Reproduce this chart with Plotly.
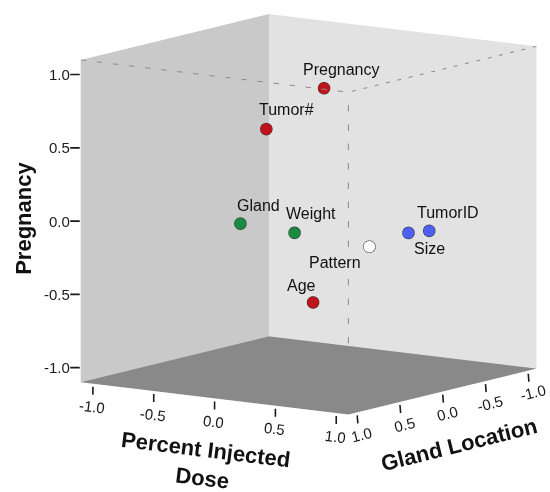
import plotly.graph_objects as go

# Component loadings of each variable
variables = ["Pregnancy", "Tumor#", "Gland", "Weight", "Pattern", "Size", "TumorID", "Age"]
percent_injected_dose = [0.21, -0.11, -0.07, 0.27, 0.40, 0.70, 0.80, 0.19]
gland_location = [0.12, 0.34, 0.70, 0.55, -0.14, -0.17, -0.27, 0.22]
pregnancy = [0.90, 0.62, 0.03, -0.02, -0.20, -0.08, -0.07, -0.55]
groups = ["red", "red", "green", "green", "none", "blue", "blue", "red"]

axis_ticks = [-1.0, -0.5, 0.0, 0.5, 1.0]
axis_range = [-1.1, 1.1]

# pixel offsets of each point label from its marker (right, up)
label_offsets = [(18, 18), (20, 19), (18, 18), (17, 19), (-34, -16), (21, -16), (19, 18), (-11, 17)]

palette = {"red": "#c0141c", "green": "#1a8a40", "blue": "#4f5ff2", "none": "#ffffff"}
colors = [palette[g] for g in groups]
FONT = "Liberation Sans, Arial, sans-serif"
lo, hi = axis_range

fig = go.Figure()

fig.add_trace(go.Scatter3d(
    x=gland_location, y=percent_injected_dose, z=pregnancy,
    mode="markers",
    marker=dict(size=7, color=colors, line=dict(color="#2a2a2a", width=1), opacity=1),
    text=variables, hoverinfo="text", showlegend=False,
))

# dashed front edges of the box
fig.add_trace(go.Scatter3d(
    x=[lo, hi, hi, None, hi, hi],
    y=[hi, hi, lo, None, hi, hi],
    z=[hi, hi, hi, None, hi, lo],
    mode="lines", line=dict(color="#8a8a8a", width=2, dash="dash"),
    hoverinfo="skip", showlegend=False, connectgaps=False,
))

annotations = []
# point labels
for name, gx, px, pz, (dx, dy) in zip(variables, gland_location, percent_injected_dose,
                                     pregnancy, label_offsets):
    annotations.append(dict(x=gx, y=px, z=pz, text=name, showarrow=False,
                            xshift=dx, yshift=dy,
                            font=dict(family=FONT, size=16, color="#111111")))

tick_font = dict(family=FONT, size=15, color="#1a1a1a")
tick_mark = dict(text=" ", showarrow=True, arrowhead=0, arrowwidth=1.6,
                 arrowcolor="#1a1a1a", font=dict(size=1), borderpad=0)
for t in axis_ticks:
    label = f"{t:.1f}"
    # Percent Injected Dose ticks along the front-left floor edge
    annotations.append(dict(x=hi, y=t, z=lo, text=label, showarrow=False,
                            xshift=-1, yshift=-23, textangle=7, font=tick_font))
    annotations.append(dict(tick_mark, x=hi, y=t, z=lo, ax=0, ay=12, standoff=3))
    # Gland Location ticks along the front-right floor edge
    annotations.append(dict(x=t, y=hi, z=lo, text=label, showarrow=False,
                            xshift=5, yshift=-22, textangle=-14, font=tick_font))
    annotations.append(dict(tick_mark, x=t, y=hi, z=lo, ax=1, ay=12, standoff=3))
    # Pregnancy ticks on the left vertical edge
    annotations.append(dict(x=hi, y=lo, z=t, text=label, showarrow=False,
                            xanchor="right", xshift=-9, font=tick_font))
    annotations.append(dict(tick_mark, x=hi, y=lo, z=t, ax=-11, ay=0, standoff=1))

title_font = dict(family=FONT, size=22, color="#111111")
annotations += [
    dict(x=hi, y=lo, z=0, text="<b>Pregnancy</b>", showarrow=False,
         xshift=-58, yshift=3, textangle=-90, font=title_font),
    dict(x=hi, y=0, z=lo, text="<b>Percent Injected<br>Dose</b>", showarrow=False,
         xshift=-11, yshift=-66, textangle=7, font=title_font),
    dict(x=0, y=hi, z=lo, text="<b>Gland Location</b>", showarrow=False,
         xshift=17, yshift=-53, textangle=-14, font=title_font),
]

axis_common = dict(
    range=axis_range, tickvals=axis_ticks, showticklabels=False, title=dict(text=""),
    showgrid=False, zeroline=False, showline=False, showspikes=False,
    ticks="", showbackground=True,
)

k = 1.25
zoom = 1.33
view = (0.818, 0.575, 0.174)
shift = (0.097, -0.099, -0.127)
fig.update_layout(
    width=550, height=492,
    margin=dict(l=0, r=0, t=0, b=0),
    paper_bgcolor="white",
    font=dict(family=FONT),
    scene=dict(
        domain=dict(x=[0, 1], y=[0, 1]),
        aspectmode="manual",
        aspectratio=dict(x=zoom, y=zoom, z=zoom),
        xaxis=dict(axis_common, backgroundcolor="#e2e2e2"),
        yaxis=dict(axis_common, backgroundcolor="#c9c9c9"),
        zaxis=dict(axis_common, backgroundcolor="#898989"),
        annotations=annotations,
        camera=dict(
            projection=dict(type="orthographic"),
            eye=dict(x=view[0] * k + shift[0], y=view[1] * k + shift[1], z=view[2] * k + shift[2]),
            up=dict(x=0, y=0, z=1),
            center=dict(x=shift[0], y=shift[1], z=shift[2]),
        ),
    ),
)

fig.write_html("out.html")
